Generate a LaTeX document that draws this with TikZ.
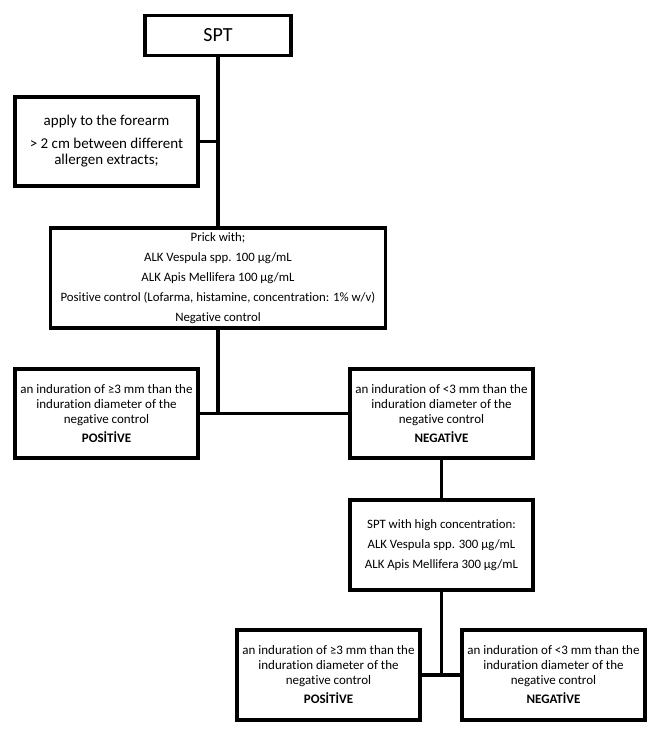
\documentclass[tikz,border=0pt]{standalone}
\usepackage{fontspec}
\setmainfont[Ligatures=NoCommon]{Carlito}
\usepackage{tikz}
\usetikzlibrary{positioning}

\begin{document}
\begin{tikzpicture}[x=1pt, y=-1pt,
    stepbox/.style={rectangle, draw=black, line width=3.5pt, fill=white, align=center, inner sep=2pt},
    smalltext/.style={font=\fontsize{13}{15}\selectfont},
    listtext/.style={font=\fontsize{12.8}{20}\selectfont},
    link/.style={draw=black, line width=3.5pt}]

        \useasboundingbox (0,0) rectangle (660,736);

        \node[stepbox, minimum width=146pt, minimum height=40pt, font=\fontsize{20}{24}\selectfont] (spt) at (218,35.5) {SPT};
        \node[stepbox, minimum width=183pt, minimum height=89pt, font=\fontsize{15}{16.5}\selectfont] (apply) at (106.5,141.5)
            {apply to the forearm\\[6pt] > 2 cm between different\\allergen extracts;};
        \node[stepbox, listtext, minimum width=335pt, minimum height=100pt] (prick) at (218,278)
            {Prick with;\\ALK Vespula spp. 100 µg/mL\\ALK Apis Mellifera 100 µg/mL\\Positive control (Lofarma, histamine, concentration: 1\% w/v)\\Negative control};

        \node[stepbox, smalltext, minimum width=183pt, minimum height=89pt] (pos1) at (106.5,413.5)
            {an induration of ≥3 mm than the\\induration diameter of the\\negative control\\[4pt]\textbf{POSİTİVE}};
        \node[stepbox, smalltext, minimum width=183pt, minimum height=89pt] (neg1) at (441.5,413.5)
            {an induration of <3 mm than the\\induration diameter of the\\negative control\\[4pt]\textbf{NEGATİVE}};

        \node[stepbox, listtext, minimum width=183pt, minimum height=90pt] (high) at (441.5,545)
            {SPT with high concentration:\\ALK Vespula spp. 300 µg/mL\\ALK Apis Mellifera 300 µg/mL};

        \node[stepbox, smalltext, minimum width=183pt, minimum height=90pt] (pos2) at (328.5,675)
            {an induration of ≥3 mm than the\\induration diameter of the\\negative control\\[4pt]\textbf{POSİTİVE}};
        \node[stepbox, smalltext, minimum width=183pt, minimum height=90pt] (neg2) at (553.5,675)
            {an induration of <3 mm than the\\induration diameter of the\\negative control\\[4pt]\textbf{NEGATİVE}};

        % connectors
        \draw[link] (spt.south) -- (spt.south |- prick.north);
        \draw[link] (apply.east) -- (apply.east -| spt.south);
        \draw[link] (prick.south) -- (prick.south |- pos1.east);
        \draw[link] (pos1.east) -- (neg1.west);
        \draw[link] (neg1.south) -- (high.north);
        \draw[link] (high.south) -- (high.south |- pos2.east);
        \draw[link] (pos2.east) -- (neg2.west);

\end{tikzpicture}
\end{document}
